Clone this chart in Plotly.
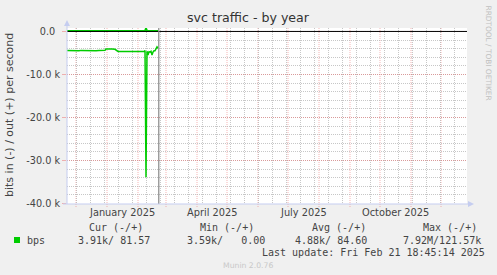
import plotly.graph_objects as go

# ---------------- data ----------------
dates = ["2024-11-22","2024-11-25","2024-11-27","2024-11-29","2024-12-02","2024-12-04",
         "2024-12-06","2024-12-09","2024-12-10","2024-12-12","2024-12-15","2024-12-18",
         "2024-12-21","2024-12-24","2024-12-27","2024-12-30","2024-12-31","2025-01-03",
         "2025-01-06","2025-01-09","2025-01-10","2025-01-11","2025-01-12","2025-01-16",
         "2025-01-20","2025-01-24","2025-01-28","2025-02-01","2025-02-04","2025-02-07",
         "2025-02-08","2025-02-09","2025-02-10","2025-02-11","2025-02-12","2025-02-13",
         "2025-02-14","2025-02-15","2025-02-16","2025-02-17","2025-02-18","2025-02-19",
         "2025-02-20","2025-02-21"]
in_bps = [4450,4500,4400,4550,4450,4500,
          4400,4450,4300,4450,4450,4450,
          4500,4450,4450,4400,4100,4050,
          4100,4150,4400,4550,4650,4650,
          4650,4650,4650,4650,4650,4650,
          4450,33900,4600,5500,4700,4800,
          4600,5500,4800,4500,4500,4000,
          3600,3910]
out_bps = [85,90,80,85,80,85,
           90,85,80,85,90,85,
           80,85,85,90,85,80,
           85,80,85,90,80,85,
           80,85,90,85,80,85,
           90,700,120,95,85,80,
           90,85,80,85,90,80,
           85,82]

x_range = ["2024-11-22", "2025-12-27"]
y_range = [-40100, 800]
ytick_vals = [0, -10000, -20000, -30000, -40000]
ytick_text = ["0.0\u2002", "-10.0 k", "-20.0 k", "-30.0 k", "-40.0 k"]
month_starts = ["2024-12-01","2025-01-01","2025-02-01","2025-03-01","2025-04-01","2025-05-01",
                "2025-06-01","2025-07-01","2025-08-01","2025-09-01","2025-10-01","2025-11-01",
                "2025-12-01"]
xlabel_dates = ["2025-01-16", "2025-04-16", "2025-07-16", "2025-10-16"]
xlabel_text = ["January 2025", "April 2025", "July 2025", "October 2025"]
last_update = "2025-02-21 18:45"

title = "svc traffic - by year"
y_title = "bits in (-) / out (+) per second"
series_name = "bps"
legend_headers = ["Cur (-/+)", "Min (-/+)", "Avg (-/+)", "Max (-/+)"]
legend_values = ["3.91k/ 81.57", "3.59k/   0.00", "4.88k/ 84.60", "7.92M/121.57k"]
last_update_text = "Last update: Fri Feb 21 18:45:14 2025"
credit_text = "RRDTOOL / TOBI OETIKER"
munin_text = "Munin 2.0.76"

# ---------------- layout geometry ----------------
W, H = 497, 275
L, R, T, B = 67, 467, 28, 204
GREEN = "#00cc00"
TXT = "#444444"
AXIS = "#c5cdf0"
MGRID = "rgba(235,110,110,0.5)"
NGRID = "rgba(175,175,175,0.7)"

def px(x):
    return (x - L) / (R - L)

def py(y):
    return (B - y) / (B - T)

fig = go.Figure()

fig.add_trace(go.Scatter(x=dates, y=[-v for v in in_bps], mode="lines",
                         line=dict(color=GREEN, width=1.5), showlegend=False,
                         hoverinfo="skip"))
fig.add_trace(go.Scatter(x=dates, y=out_bps, mode="lines",
                         line=dict(color=GREEN, width=2), showlegend=False,
                         hoverinfo="skip"))

shapes = []
# month grid lines (red dotted) and tick stubs
for d in month_starts:
    shapes.append(dict(type="line", xref="x", yref="paper", x0=d, x1=d, y0=-3/176, y1=1,
                       line=dict(color=MGRID, width=1, dash="1px,1px"), layer="below"))
# zero line
shapes.append(dict(type="line", xref="paper", yref="y", x0=0, x1=1, y0=0, y1=0,
                   line=dict(color="black", width=1), layer="above"))
# last update line
shapes.append(dict(type="line", xref="x", yref="paper", x0=last_update, x1=last_update,
                   y0=0, y1=1, line=dict(color="#888888", width=1.2), layer="above"))
# axis lines with arrows
shapes.append(dict(type="line", xref="paper", yref="paper", x0=0, x1=0, y0=0, y1=py(22),
                   line=dict(color=AXIS, width=1), layer="above"))
shapes.append(dict(type="line", xref="paper", yref="paper", x0=px(63), x1=px(470), y0=0, y1=0,
                   line=dict(color=AXIS, width=1), layer="above"))
shapes.append(dict(type="path", xref="paper", yref="paper",
                   path=f"M {px(64)},{py(26)} L {px(70)},{py(26)} L {px(67)},{py(20)} Z",
                   fillcolor=AXIS, line=dict(width=0), layer="above"))
shapes.append(dict(type="path", xref="paper", yref="paper",
                   path=f"M {px(468)},{py(201)} L {px(468)},{py(207)} L {px(474)},{py(204)} Z",
                   fillcolor=AXIS, line=dict(width=0), layer="above"))
# legend swatch
shapes.append(dict(type="rect", xref="paper", yref="paper", x0=px(14), x1=px(20),
                   y0=py(243), y1=py(237), fillcolor=GREEN, line=dict(width=0)))

annotations = []
def txt(s, x, y, size, color=TXT, family="DejaVu Sans", xanchor="left", angle=0):
    annotations.append(dict(text=s, x=px(x), y=py(y), xref="paper", yref="paper",
                            showarrow=False, xanchor=xanchor, yanchor="middle",
                            textangle=angle, borderpad=0, borderwidth=0,
                            font=dict(family=family, size=size, color=color)))

txt(title, 248.5, 18, 12.6, color="#333333", xanchor="center")
txt(y_title, 10, 115, 11, xanchor="center", angle=-90)
txt(credit_text, 488.5, 53, 7.4, color="#c0c0c0", xanchor="center", angle=90)
for d, s in zip(xlabel_dates, xlabel_text):
    annotations.append(dict(text=s, x=d, y=py(213), xref="x", yref="paper", showarrow=False,
                            xanchor="center", yanchor="middle", borderpad=0, borderwidth=0,
                            font=dict(family="DejaVu Sans", size=9.8, color=TXT)))
MONO = "DejaVu Sans Mono"
for s, x in zip(legend_headers, [89, 200, 311.5, 423]):
    txt(s.replace(" ", "\u00a0"), x, 228, 10, family=MONO)
txt(series_name, 26.5, 240, 10, family=MONO)
for s, x in zip(legend_values, [78, 186.5, 295, 403]):
    txt(s.replace(" ", "\u00a0"), x, 240, 10, family=MONO)
txt(last_update_text.replace(" ", "\u00a0"), 261.5, 252, 10, family=MONO)
txt(munin_text, 223, 265, 7.7, color="#c8c8c8")

fig.update_layout(
    width=W, height=H,
    margin=dict(l=L, r=W - R, t=T, b=H - B, pad=0),
    paper_bgcolor="#f0f0f0", plot_bgcolor="white",
    showlegend=False,
    shapes=shapes, annotations=annotations,
    xaxis=dict(type="date", range=x_range, showticklabels=False, showgrid=False,
               zeroline=False, showline=False, ticks="",
               minor=dict(dtick=14 * 86400000, tick0="2024-12-01", showgrid=True,
                          gridcolor=NGRID, griddash="1px,1px", gridwidth=1, ticks="")),
    yaxis=dict(range=y_range, tickvals=ytick_vals, ticktext=ytick_text,
               showgrid=True, gridcolor=MGRID, griddash="1px,1px", gridwidth=1,
               zeroline=False, showline=False, ticks="outside", ticklen=4,
               tickcolor=MGRID, tickfont=dict(family="DejaVu Sans", size=9.7, color=TXT),
               minor=dict(dtick=2000, showgrid=True, gridcolor=NGRID,
                          griddash="1px,1px", gridwidth=1, ticks="")),
)

fig.write_html("out.html")
